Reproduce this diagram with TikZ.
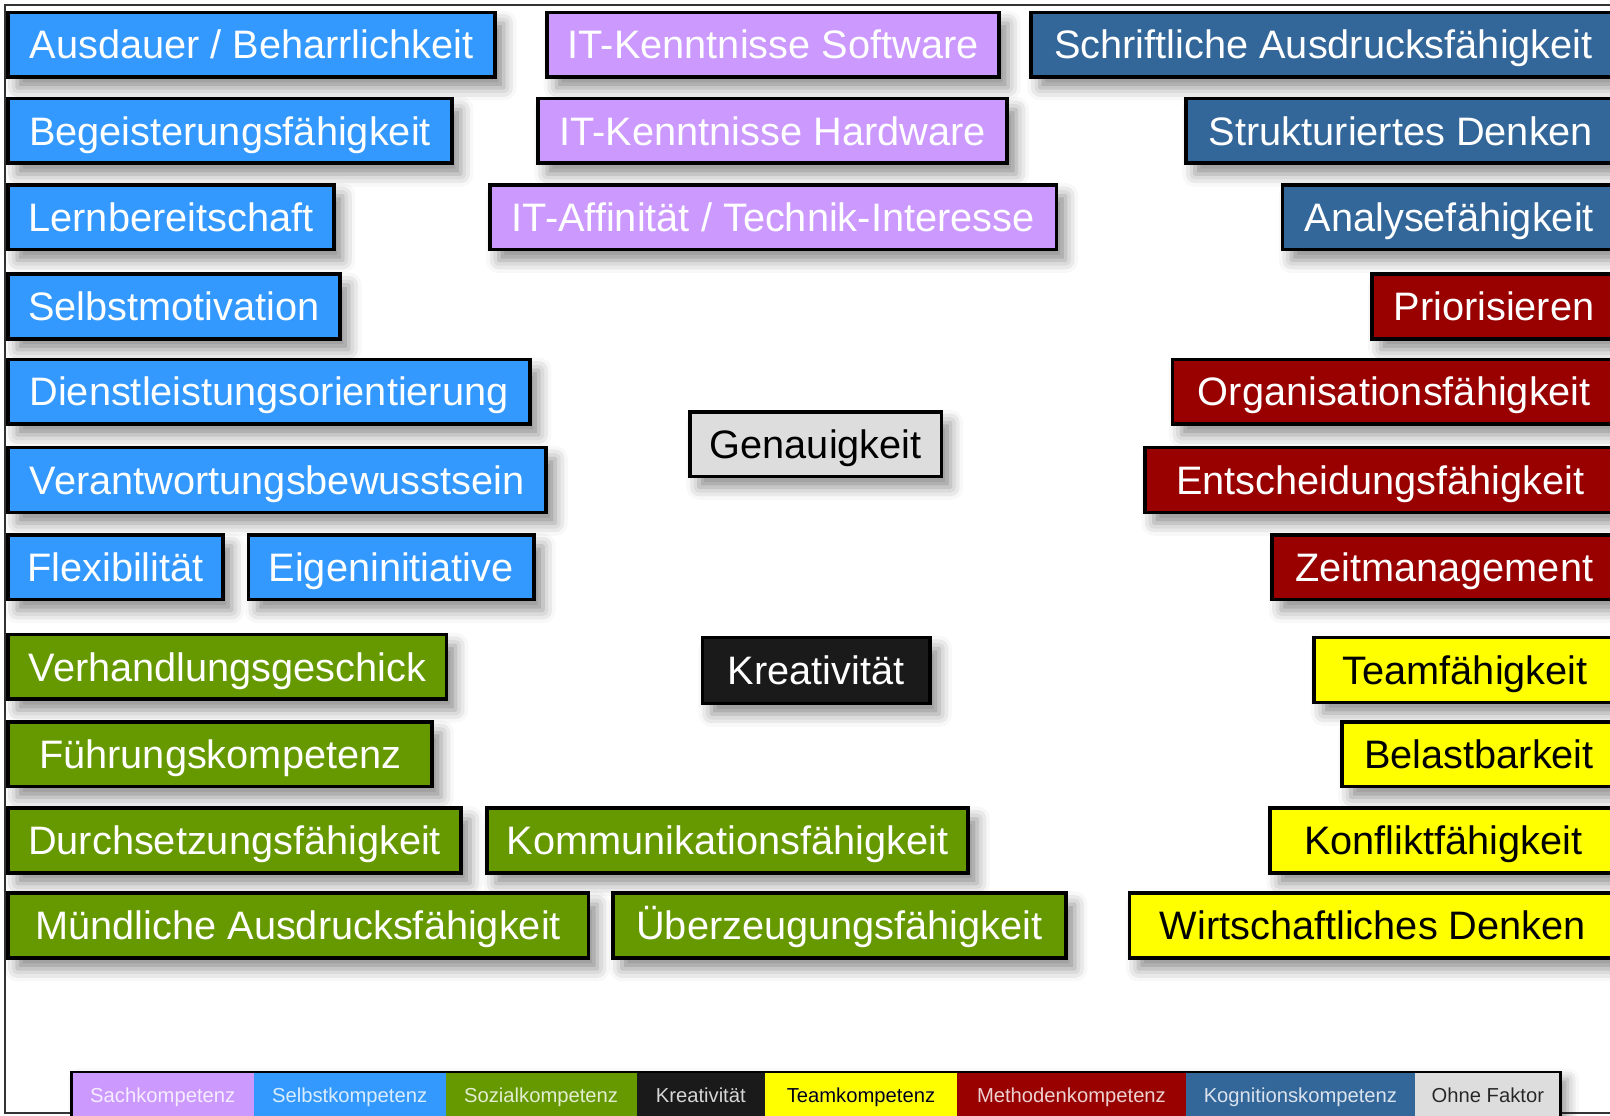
\documentclass[tikz,border=0pt]{standalone}
\usepackage{fontspec}
\setmainfont{Liberation Sans}
\usetikzlibrary{shadows.blur}

\definecolor{sach}{HTML}{CC99FF}
\definecolor{selbst}{HTML}{3399FF}
\definecolor{sozial}{HTML}{669900}
\definecolor{krea}{HTML}{1A1A1A}
\definecolor{teamcol}{HTML}{FFFF00}
\definecolor{methode}{HTML}{990000}
\definecolor{kogni}{HTML}{336699}
\definecolor{ohne}{HTML}{DDDDDD}

\tikzset{
  kbox/.style={draw=black, line width=1pt, inner sep=0pt,
    font=\fontsize{11}{13}\selectfont, text height=7.9pt, text depth=0pt,
    blur shadow={shadow xshift=2.5pt, shadow yshift=-3pt, shadow blur radius=3.5pt, shadow opacity=45}},
  sachbox/.style={fill=sach, text=white},
  selbstbox/.style={fill=selbst, text=white},
  sozialbox/.style={fill=sozial, text=white},
  kreabox/.style={fill=krea, text=white},
  teambox/.style={fill=teamcol, text=black},
  methodebox/.style={fill=methode, text=white},
  kognibox/.style={fill=kogni, text=white},
  ohnebox/.style={fill=ohne, text=black},
  legseg/.style={inner sep=0pt, font=\fontsize{5.6}{7}\selectfont, text height=4pt, text depth=0pt},
  frame/.style={draw=black!80, line width=0.6pt}
}

% box from (x1,y1) to (x2,y2), pixel units, y downwards
\newcommand{\kbox}[7]{%
  \node[kbox,#1,minimum width={(#4-#2)*0.01cm},minimum height={(#5-#3)*0.01cm}]
    (#6) at ({(#2+#4)/2},{(#3+#5)/2}) {#7};}

\begin{document}
\begin{tikzpicture}[x=0.01cm,y=-0.01cm]
\useasboundingbox (0,0) rectangle (1568,1086);
\draw[frame] (1570,5) -- (5,5) -- (5,1084) -- (1570,1084);

% Selbstkompetenz
\kbox{selbstbox}{8}{12}{482}{75}{ausdauer}{Ausdauer / Beharrlichkeit}
\kbox{selbstbox}{8}{96}{440}{159}{begeist}{Begeisterungsfähigkeit}
\kbox{selbstbox}{8}{180}{325}{243}{lernber}{Lernbereitschaft}
\kbox{selbstbox}{8}{267}{331}{330}{selbstmot}{Selbstmotivation}
\kbox{selbstbox}{8}{350}{516}{413}{dienstl}{Dienstleistungsorientierung}
\kbox{selbstbox}{8}{436}{532}{499}{verantw}{Verantwortungsbewusstsein}
\kbox{selbstbox}{8}{521}{217}{584}{flexib}{Flexibilität}
\kbox{selbstbox}{242}{521}{520}{584}{eigenin}{Eigeninitiative}

% Sachkompetenz
\kbox{sachbox}{533}{12}{973}{75}{itsoft}{IT-Kenntnisse Software}
\kbox{sachbox}{524}{96}{981}{159}{ithard}{IT-Kenntnisse Hardware}
\kbox{sachbox}{477}{180}{1029}{243}{itaff}{IT-Affinität / Technik-Interesse}

% Kognitionskompetenz
\kbox{kognibox}{1004}{12}{1574}{75}{schriftl}{Schriftliche Ausdrucksfähigkeit}
\kbox{kognibox}{1155}{96}{1574}{159}{struktur}{Strukturiertes Denken}
\kbox{kognibox}{1249}{180}{1574}{243}{analyse}{Analysefähigkeit}

% Methodenkompetenz
\kbox{methodebox}{1336}{267}{1574}{330}{prior}{Priorisieren}
\kbox{methodebox}{1142}{350}{1574}{413}{organis}{Organisationsfähigkeit}
\kbox{methodebox}{1115}{436}{1574}{499}{entsch}{Entscheidungsfähigkeit}
\kbox{methodebox}{1239}{521}{1574}{584}{zeitman}{Zeitmanagement}

% ohne Faktor / Kreativitaet
\kbox{ohnebox}{672}{401}{917}{464}{genau}{Genauigkeit}
\kbox{kreabox}{684}{621}{906}{685}{kreativ}{Kreativität}

% Teamkompetenz
\kbox{teambox}{1280}{621}{1574}{684}{teamf}{Teamfähigkeit}
\kbox{teambox}{1307}{703}{1574}{766}{belast}{Belastbarkeit}
\kbox{teambox}{1237}{787}{1574}{850}{konflikt}{Konfliktfähigkeit}
\kbox{teambox}{1100}{870}{1574}{933}{wirtsch}{Wirtschaftliches Denken}

% Sozialkompetenz
\kbox{sozialbox}{8}{618}{435}{681}{verhandl}{Verhandlungsgeschick}
\kbox{sozialbox}{8}{703}{421}{766}{fuehrung}{Führungskompetenz}
\kbox{sozialbox}{8}{787}{449}{850}{durchs}{Durchsetzungsfähigkeit}
\kbox{sozialbox}{474}{787}{943}{850}{kommun}{Kommunikationsfähigkeit}
\kbox{sozialbox}{8}{870}{573}{933}{muendl}{Mündliche Ausdrucksfähigkeit}
\kbox{sozialbox}{597}{870}{1038}{933}{ueberz}{Überzeugungsfähigkeit}

% Legende
\fill[blur shadow={shadow xshift=2pt, shadow yshift=-2pt, shadow blur radius=3pt, shadow opacity=40}, white] (70,1044) rectangle (1520,1090);
\foreach \a/\b/\c/\t/\n in {70/247/sach/Sachkompetenz/1, 247/434/selbst/Selbstkompetenz/2,
    434/620/sozial/Sozialkompetenz/3, 620/745/krea/Kreativität/4,
    745/932/teamcol/Teamkompetenz/5, 932/1155/methode/Methodenkompetenz/6,
    1155/1378/kogni/Kognitionskompetenz/7, 1378/1520/ohne/Ohne Faktor/8} {
  \node[legseg, fill=\c, minimum width={(\b-\a)*0.01cm}, minimum height={46*0.01cm},
    text=white!82!\c] (leg\n) at ({(\a+\b)/2},1067) {\t};
}
\node[legseg, text=black] at (leg5) {Teamkompetenz};
\node[legseg, text=black!85] at (leg8) {Ohne Faktor};
\draw[black, line width=0.8pt] (70,1090) -- (70,1044) -- (1520,1044) -- (1520,1090);
\end{tikzpicture}
\end{document}
